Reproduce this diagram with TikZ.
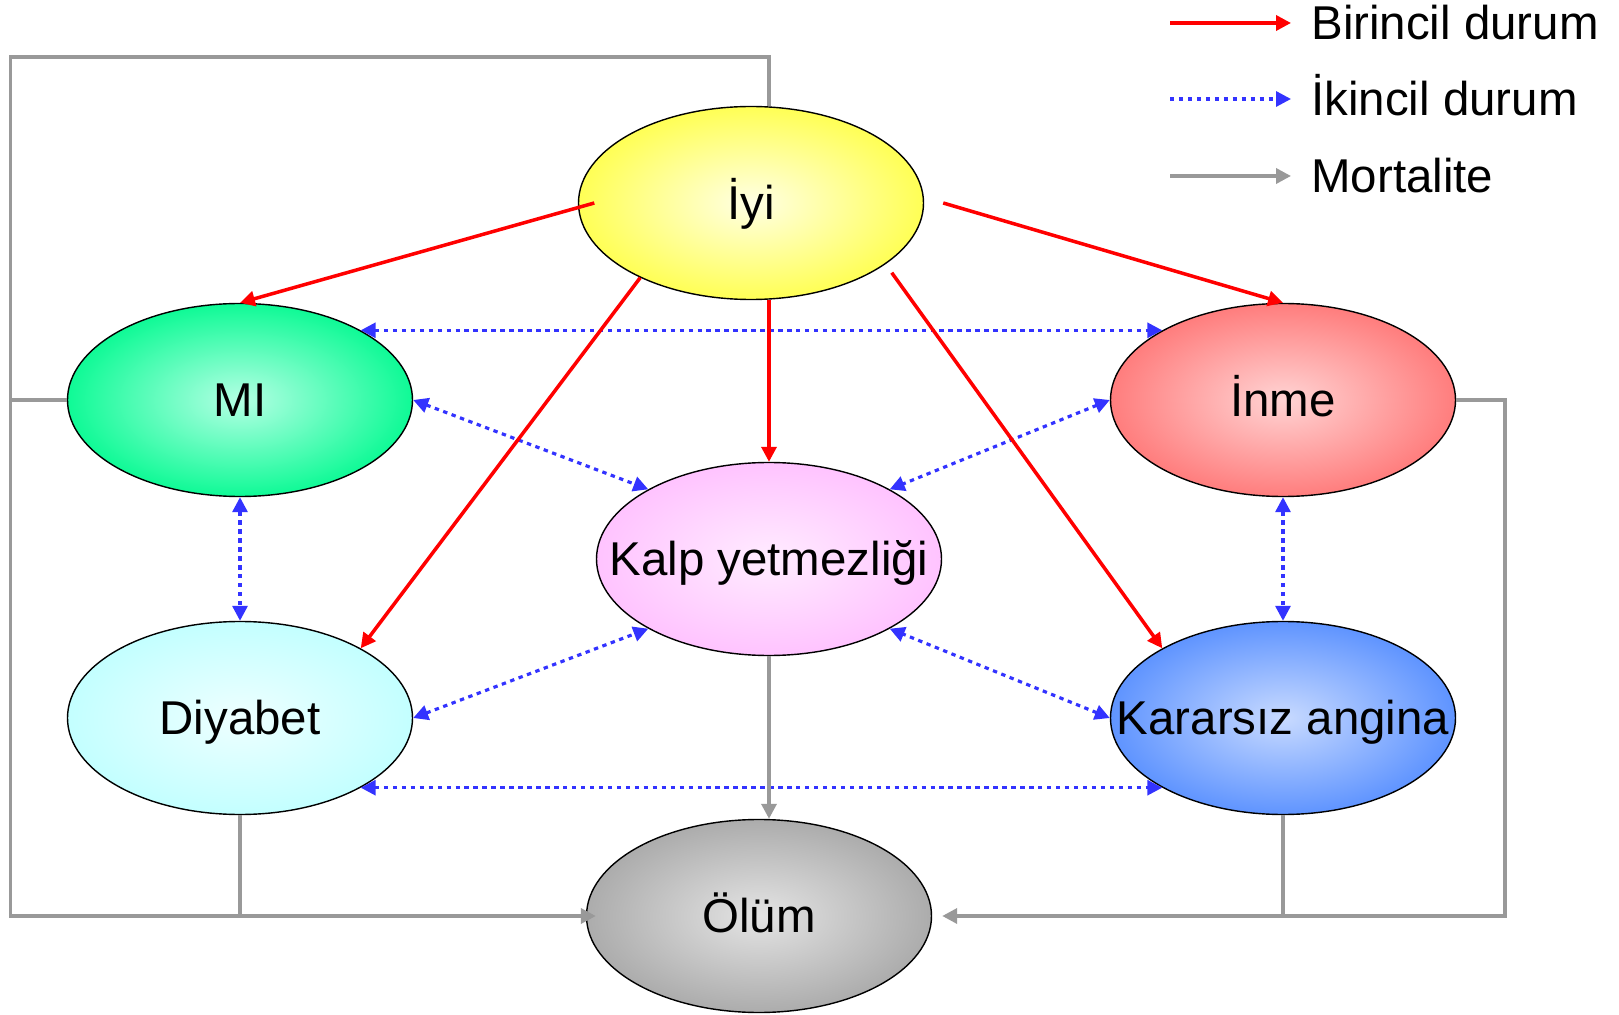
\documentclass[tikz,border=0pt]{standalone}
\usepackage{fontspec}
\setmainfont{Liberation Sans}
\usepackage{tikz}
\usetikzlibrary{positioning,shapes.geometric,arrows.meta}

\definecolor{iyiOuter}{RGB}{255,255,85}
\definecolor{iyiInner}{RGB}{255,255,228}
\definecolor{miOuter}{RGB}{15,250,150}
\definecolor{miInner}{RGB}{180,255,228}
\definecolor{inmeOuter}{RGB}{255,125,125}
\definecolor{inmeInner}{RGB}{255,212,212}
\definecolor{kalpOuter}{RGB}{255,195,255}
\definecolor{kalpInner}{RGB}{255,236,255}
\definecolor{diyabetOuter}{RGB}{195,255,255}
\definecolor{diyabetInner}{RGB}{238,255,255}
\definecolor{anginaOuter}{RGB}{95,148,255}
\definecolor{anginaInner}{RGB}{200,218,255}
\definecolor{olumOuter}{RGB}{172,172,172}
\definecolor{olumInner}{RGB}{228,228,228}
\definecolor{primaryRed}{RGB}{255,0,0}
\definecolor{secondaryBlue}{RGB}{51,51,255}
\definecolor{mortalityGray}{RGB}{153,153,153}

\begin{document}
\begin{tikzpicture}[%
    state/.style={%
        ellipse,
        draw,
        line width=0.8pt,
        minimum width=6.9cm,
        minimum height=3.86cm,
        inner xsep=-2cm,
        inner ysep=0pt,
        font=\fontsize{27}{32}\selectfont,
        text height=19.3pt,
        text depth=0pt
    },
    healthy/.style={state, inner color=iyiInner, outer color=iyiOuter},
    infarct/.style={state, inner color=miInner, outer color=miOuter},
    stroke/.style={state, inner color=inmeInner, outer color=inmeOuter},
    heartFailure/.style={state, inner color=kalpInner, outer color=kalpOuter},
    diabetes/.style={state, inner color=diyabetInner, outer color=diyabetOuter},
    angina/.style={state, inner color=anginaInner, outer color=anginaOuter},
    death/.style={state, inner color=olumInner, outer color=olumOuter},
    legendText/.style={%
        anchor=west,
        inner sep=0pt,
        font=\fontsize{27}{32}\selectfont,
        text height=19.3pt,
        text depth=0pt
    },
    primary/.style={->, primaryRed, line width=2pt},
    secondary/.style={<->, secondaryBlue, line width=1.8pt, dash pattern=on 2.5pt off 2.6pt},
    mortality/.style={mortalityGray, line width=2pt},
    >={Triangle[length=8.5pt,width=8.5pt]}
]
\useasboundingbox (0,0) rectangle (32.38,20.28);

% States
    \node[healthy] (iyi) at (15.02,16.22) {İyi};
    \node[infarct] (mi) at (4.80,12.28) {MI};
    \node[stroke] (inme) at (25.66,12.28) {İnme};
    \node[heartFailure] (kalp) at (15.38,9.10) {Kalp yetmezliği};
    \node[diabetes] (diyabet) at (4.80,5.92) {Diyabet};
    \node[angina] (kararsiz) at (25.66,5.92) {Kararsız angina};
    \node[death] (olum) at (15.18,1.96) {Ölüm};

% Corners of the mortality lines
    \coordinate (topLeft) at (0.21,19.14);
    \coordinate (rightCorner) at (30.10,1.96);

% Legend
    \coordinate (legPrimA) at (23.40,19.82);
    \coordinate (legPrimB) at (25.82,19.82);
    \coordinate (legSecA) at (23.40,18.30);
    \coordinate (legSecB) at (25.82,18.30);
    \coordinate (legMortA) at (23.40,16.76);
    \coordinate (legMortB) at (25.82,16.76);
    \node[legendText] (legPrim) at (26.22,19.82) {Birincil durum};
    \node[legendText] (legSec) at (26.22,18.30) {İkincil durum};
    \node[legendText] (legMort) at (26.22,16.76) {Mortalite};

\draw[primary] (legPrimA) -- (legPrimB);
\draw[secondary, -{Triangle[length=8.5pt,width=8.5pt]}] (legSecA) -- (legSecB);
\draw[mortality, ->] (legMortA) -- (legMortB);

% Secondary arrows
\draw[secondary] (mi.30) -- (inme.150);
\draw[secondary] (diyabet.330) -- (kararsiz.210);
\draw[secondary] (mi.south) -- (diyabet.north);
\draw[secondary] (inme.south) -- (kararsiz.north);
\draw[secondary] (mi.east) -- (kalp.150);
\draw[secondary] (inme.west) -- (kalp.30);
\draw[secondary] (diyabet.east) -- (kalp.210);
\draw[secondary] (kararsiz.west) -- (kalp.330);

% Mortality
\draw[mortality, ->] (kalp.south) -- (kalp.south |- olum.north);
\draw[mortality, ->, shorten >=-0.2cm] (iyi.north -| kalp.north) |- (topLeft) |- (olum.west);
\draw[mortality] (mi.west) -- (mi.west -| topLeft);
\draw[mortality] (diyabet.south) -- (diyabet.south |- olum.west);
\draw[mortality, ->, shorten >=0.2cm] (inme.east) -| (rightCorner) -- (olum.east);
\draw[mortality] (kararsiz.south) -- (kararsiz.south |- olum.east);

% Primary arrows
\draw[primary] ([xshift=0.33cm]iyi.west) -- (mi.north);
\draw[primary] ([xshift=0.38cm]iyi.east) -- (inme.north);
\draw[primary] (iyi.south -| kalp.north) -- (kalp.north);
\draw[primary] (iyi.214) -- (diyabet.30);
\draw[primary] ([xshift=0.4cm]iyi.330) -- (kararsiz.150);

\end{tikzpicture}
\end{document}
